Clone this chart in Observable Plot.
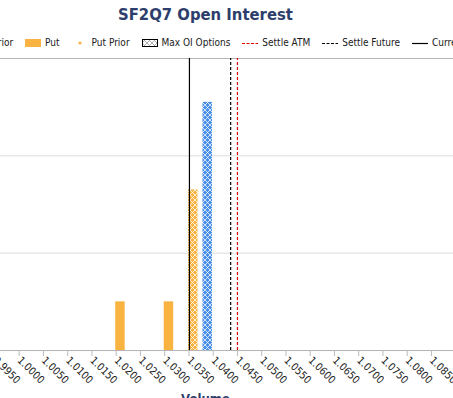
<!DOCTYPE html>
<html><head><meta charset="utf-8">
<script src="https://cdn.jsdelivr.net/npm/d3@7"></script>
<script src="https://cdn.jsdelivr.net/npm/@observablehq/plot@0.6"></script>
<style>
html,body{margin:0;padding:0;background:#fff;overflow:hidden;width:453px;height:398px;}
#wrap{position:relative;width:453px;height:398px;overflow:hidden;}
#title{position:absolute;left:0;width:411px;top:5px;text-align:center;font:bold 16.5px "DejaVu Sans Condensed","DejaVu Sans",sans-serif;color:#2d3e6c;white-space:nowrap;}
#legend{position:absolute;top:37px;left:0;white-space:nowrap;display:flex;align-items:center;font:10px "DejaVu Sans Condensed","DejaVu Sans",sans-serif;color:#1a1a1a;}
.item{display:flex;align-items:center;margin-right:12px;}
.item svg{margin-right:4px;display:block;}
#chart{position:absolute;top:50px;left:0;}
#xlabel{position:absolute;left:0;width:411px;top:391px;text-align:center;font:bold 13px "DejaVu Sans Condensed","DejaVu Sans",sans-serif;color:#2d3e6c;}
</style>
</head><body>
<svg width="0" height="0" style="position:absolute">
<defs>
<pattern id="hatchPut" patternUnits="userSpaceOnUse" width="5" height="5">
<rect width="5" height="5" fill="#F9B340"/>
<path d="M0,0L5,5M5,0L0,5" stroke="#fff" stroke-width="0.75"/>
</pattern>
<pattern id="hatchCall" patternUnits="userSpaceOnUse" width="5" height="5">
<rect width="5" height="5" fill="#4A8FE7"/>
<path d="M0,0L5,5M5,0L0,5" stroke="#fff" stroke-width="0.75"/>
</pattern>
<pattern id="hatchLegend" patternUnits="userSpaceOnUse" width="5" height="5">
<rect width="5" height="5" fill="#fff"/>
<path d="M0,0L5,5M5,0L0,5" stroke="#999" stroke-width="0.8"/>
</pattern>
</defs>
</svg>
<div id="wrap">
<div id="title">SF2Q7 Open Interest</div>
<div id="legend"></div>
<div id="chart"></div>
<div id="xlabel">Volume</div>
</div>
<script>
// ---- data ----
const tickLabels = ["0.9950","1.0000","1.0050","1.0100","1.0150","1.0200","1.0250","1.0300","1.0350","1.0400","1.0450","1.0500","1.0550","1.0600","1.0650","1.0700","1.0750","1.0800","1.0850","1.0900"];
const putStrikes = [1.0200, 1.0300, 1.0350];
const putOI = [10, 10, 33];
const callStrikes = [1.0350];
const callOI = [51];
const maxOIStrike = 1.0350;
const settleATM = 1.0450;
const settleFuture = 1.0436;
const currentPrice = 1.0351;
const legendLabels = ["Call","Call Prior","Put","Put Prior","Max OI Options","Settle ATM","Settle Future","Current"];

const ORANGE = "#F9B340", BLUE = "#4A8FE7";
const tickValues = tickLabels.map(Number);
const puts = putStrikes.map((s, i) => ({strike: s, oi: putOI[i]}));
const calls = callStrikes.map((s, i) => ({strike: s, oi: callOI[i]}));
const barW = 0.00195;

const chart = Plot.plot({
  width: 453, height: 348,
  marginTop: 8, marginBottom: 48, marginLeft: 0, marginRight: 0,
  style: {background: "transparent", overflow: "visible"},
  x: {type: "linear", domain: [0.996144, 1.089546]},
  y: {domain: [0, 60], axis: null},
  marks: [
    Plot.ruleY([20, 40], {stroke: "#dcdcdc", strokeWidth: 1}),
    Plot.ruleY([60], {stroke: "#b4b4b4", strokeWidth: 1}),
    Plot.rectY(puts.filter(d => d.strike !== maxOIStrike), {x1: d => d.strike - 0.0001, x2: d => d.strike - 0.0001 + barW, y: "oi", fill: ORANGE}),
    Plot.rectY(puts.filter(d => d.strike === maxOIStrike), {x1: d => d.strike - 0.0001, x2: d => d.strike - 0.0001 + barW, y: "oi", fill: "url(#hatchPut)"}),
    Plot.rectY(calls.filter(d => d.strike !== maxOIStrike), {x1: d => d.strike + 0.0029, x2: d => d.strike + 0.0029 + barW, y: "oi", fill: BLUE}),
    Plot.rectY(calls.filter(d => d.strike === maxOIStrike), {x1: d => d.strike + 0.0029, x2: d => d.strike + 0.0029 + barW, y: "oi", fill: "url(#hatchCall)"}),
    Plot.ruleX([currentPrice], {y1: 0, y2: 60, stroke: "#000", strokeWidth: 1.2}),
    Plot.ruleX([settleFuture], {y1: 0, y2: 60, stroke: "#000", strokeWidth: 1.2, strokeDasharray: "3,2"}),
    Plot.ruleX([settleATM], {y1: 0, y2: 60, stroke: "#e00000", strokeWidth: 1.2, strokeDasharray: "3,2"}),
    Plot.ruleY([0], {stroke: "#b4b4b4", strokeWidth: 1}),
    Plot.axisX(tickValues, {
      tickRotate: 45, tickSize: 6, tickPadding: 2, stroke: "#bbb", fill: "#1a1a1a",
      fontSize: 10.5, fontFamily: '"DejaVu Sans Condensed","DejaVu Sans",sans-serif',
      tickFormat: (d, i) => tickLabels[i], label: null
    })
  ]
});
document.getElementById("chart").appendChild(chart);

// legend
const swatches = {
  "Call": `<rect x="0" y="1" width="16" height="8" fill="${BLUE}"/>`,
  "Call Prior": `<circle cx="8" cy="5" r="1.6" fill="${BLUE}"/>`,
  "Put": `<rect x="0" y="1" width="16" height="8" fill="${ORANGE}"/>`,
  "Put Prior": `<circle cx="8" cy="5" r="1.6" fill="${ORANGE}"/>`,
  "Max OI Options": `<rect x="0.5" y="1.5" width="15" height="7" fill="url(#hatchLegend)" stroke="#000" stroke-width="1"/>`,
  "Settle ATM": `<line x1="0" x2="16" y1="5.5" y2="5.5" stroke="#e00000" stroke-width="1.2" stroke-dasharray="3,1.5"/>`,
  "Settle Future": `<line x1="0" x2="16" y1="5.5" y2="5.5" stroke="#000" stroke-dasharray="3,1.5"/>`,
  "Current": `<line x1="0" x2="16" y1="5.5" y2="5.5" stroke="#000" stroke-width="1.2"/>`
};
const legend = document.getElementById("legend");
let putSw = null;
legendLabels.forEach(l => {
  const it = document.createElement("div");
  it.className = "item";
  it.innerHTML = `<svg width="16" height="10">${swatches[l]}</svg><span>${l}</span>`;
  legend.appendChild(it);
  if (l === "Put") putSw = it;
});
legend.style.left = (25 - putSw.offsetLeft) + "px";
</script>
</body></html>
